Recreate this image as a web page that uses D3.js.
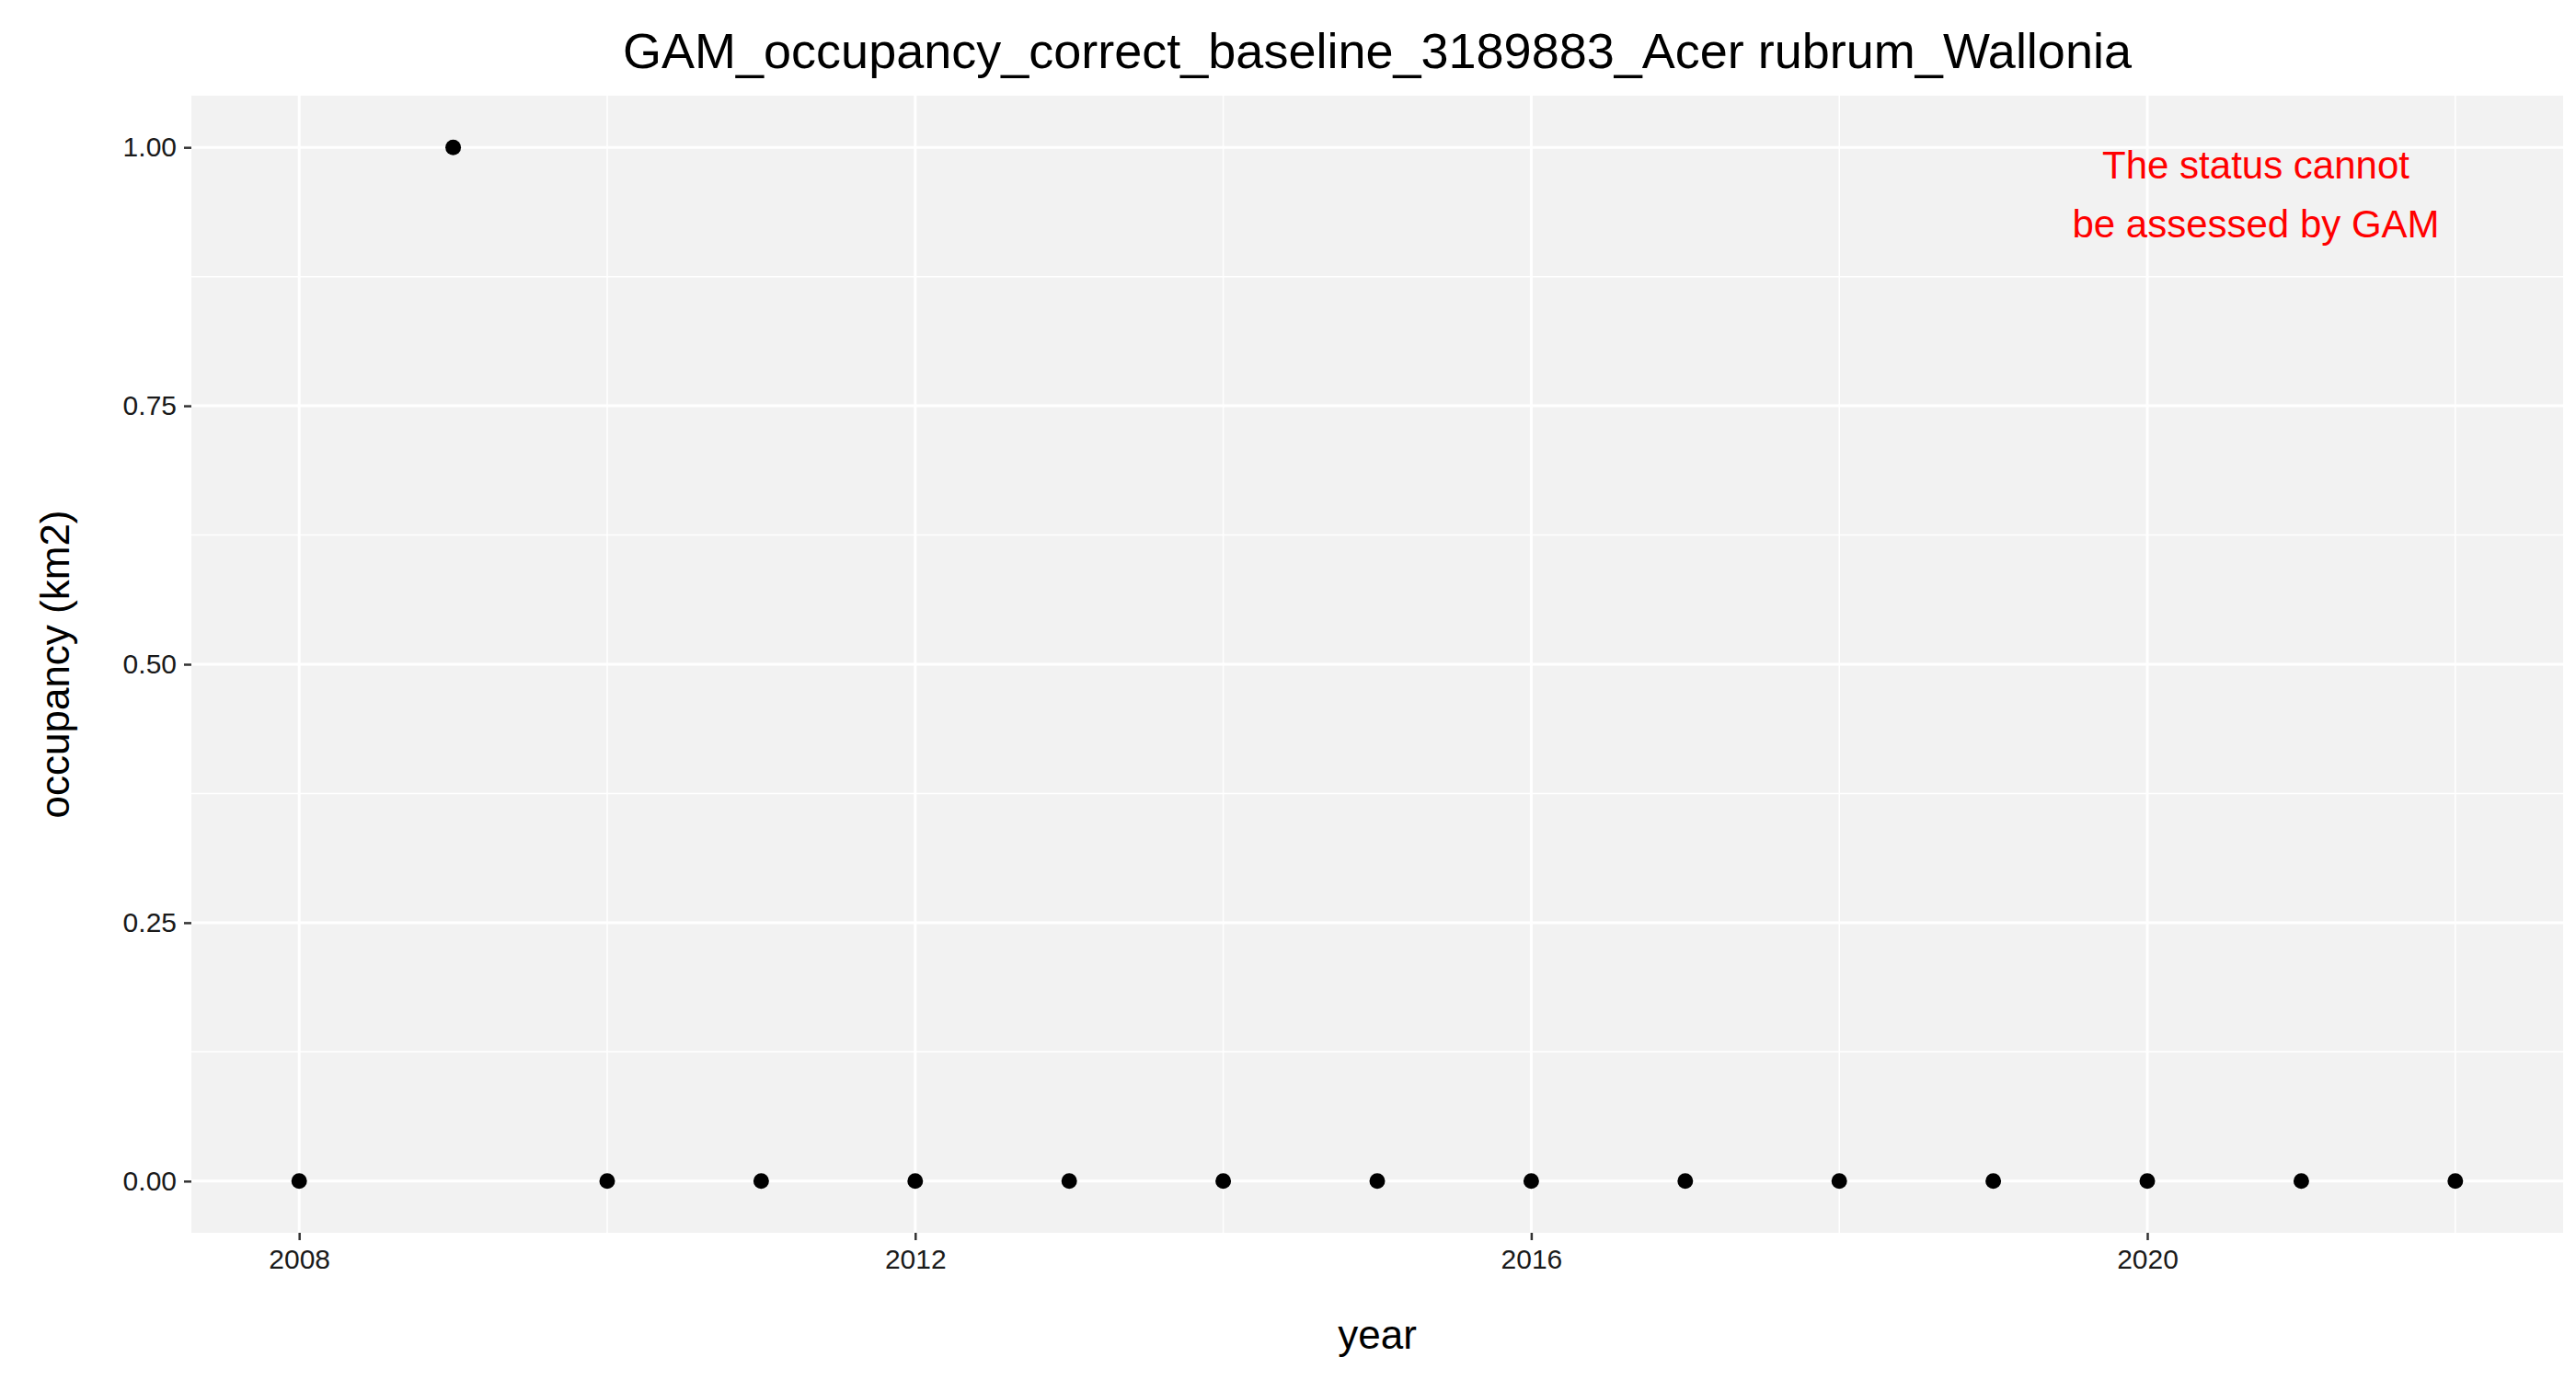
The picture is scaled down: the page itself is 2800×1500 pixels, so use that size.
<!DOCTYPE html>
<html><head><meta charset="utf-8">
<script src="https://cdn.jsdelivr.net/npm/d3@7"></script>
<style>body{margin:0;background:#fff}</style>
</head><body>
<div id="chart"></div>
<script>
var years = [2008, 2009, 2010, 2011, 2012, 2013, 2014, 2015, 2016, 2017, 2018, 2019, 2020, 2021, 2022];
var occupancy = [0, 1, 0, 0, 0, 0, 0, 0, 0, 0, 0, 0, 0, 0, 0];
var xTicks = [2008, 2012, 2016, 2020];
var yTicks = [0, 0.25, 0.5, 0.75, 1];

var width = 2800, height = 1500;
var m = {top: 104, right: 14, bottom: 160, left: 208};
var font = "Liberation Sans, Arial, sans-serif";

var svg = d3.select("#chart").append("svg")
    .attr("width", width).attr("height", height);

var x = d3.scaleLinear().domain([2007.3, 2022.7]).range([m.left, width - m.right]);
var y = d3.scaleLinear().domain([-0.05, 1.05]).range([height - m.bottom, m.top]);

svg.append("rect")
    .attr("x", m.left).attr("y", m.top)
    .attr("width", width - m.left - m.right).attr("height", height - m.top - m.bottom)
    .attr("fill", "#f2f2f2");

// minor grid
var xMinor = [2010, 2014, 2018, 2022];
var yMinor = [0.125, 0.375, 0.625, 0.875];
svg.append("g").selectAll("line").data(xMinor).join("line")
    .attr("x1", d => x(d)).attr("x2", d => x(d))
    .attr("y1", m.top).attr("y2", height - m.bottom)
    .attr("stroke", "#fff").attr("stroke-width", 1.5);
svg.append("g").selectAll("line").data(yMinor).join("line")
    .attr("x1", m.left).attr("x2", width - m.right)
    .attr("y1", d => y(d)).attr("y2", d => y(d))
    .attr("stroke", "#fff").attr("stroke-width", 1.5);
// major grid
svg.append("g").selectAll("line").data(xTicks).join("line")
    .attr("x1", d => x(d)).attr("x2", d => x(d))
    .attr("y1", m.top).attr("y2", height - m.bottom)
    .attr("stroke", "#fff").attr("stroke-width", 3);
svg.append("g").selectAll("line").data(yTicks).join("line")
    .attr("x1", m.left).attr("x2", width - m.right)
    .attr("y1", d => y(d)).attr("y2", d => y(d))
    .attr("stroke", "#fff").attr("stroke-width", 3);

var xAxis = svg.append("g")
    .attr("transform", "translate(0," + (height - m.bottom) + ")")
    .call(d3.axisBottom(x).tickValues(xTicks).tickFormat(d3.format("d")).tickSize(8).tickPadding(10));
var yAxis = svg.append("g")
    .attr("transform", "translate(" + m.left + ",0)")
    .call(d3.axisLeft(y).tickValues(yTicks).tickFormat(d3.format(".2f")).tickSize(8).tickPadding(8));
[xAxis, yAxis].forEach(function (a) {
    a.select(".domain").remove();
    a.selectAll(".tick line").attr("stroke", "#333").attr("stroke-width", 2.5);
    a.selectAll("text").attr("font-family", font).attr("font-size", 30).attr("fill", "#1a1a1a");
});

svg.selectAll("circle").data(years).join("circle")
    .attr("cx", d => x(d))
    .attr("cy", (d, i) => y(occupancy[i]))
    .attr("r", 8.5).attr("fill", "#000");

svg.append("text").attr("x", (m.left + width - m.right) / 2).attr("y", 74)
    .attr("text-anchor", "middle").attr("font-family", font).attr("font-size", 54)
    .text("GAM_occupancy_correct_baseline_3189883_Acer rubrum_Wallonia");
svg.append("text").attr("x", (m.left + width - m.right) / 2).attr("y", 1466)
    .attr("text-anchor", "middle").attr("font-family", font).attr("font-size", 44)
    .text("year");
svg.append("text").attr("transform", "translate(75," + ((m.top + height - m.bottom) / 2) + ") rotate(-90)")
    .attr("text-anchor", "middle").attr("font-family", font).attr("font-size", 44)
    .text("occupancy (km2)");

var note = svg.append("text").attr("font-family", font).attr("font-size", 42)
    .attr("fill", "red").attr("text-anchor", "middle");
note.append("tspan").attr("x", 2452).attr("y", 194).text("The status cannot");
note.append("tspan").attr("x", 2452).attr("y", 258).text("be assessed by GAM");
</script>
</body></html>
